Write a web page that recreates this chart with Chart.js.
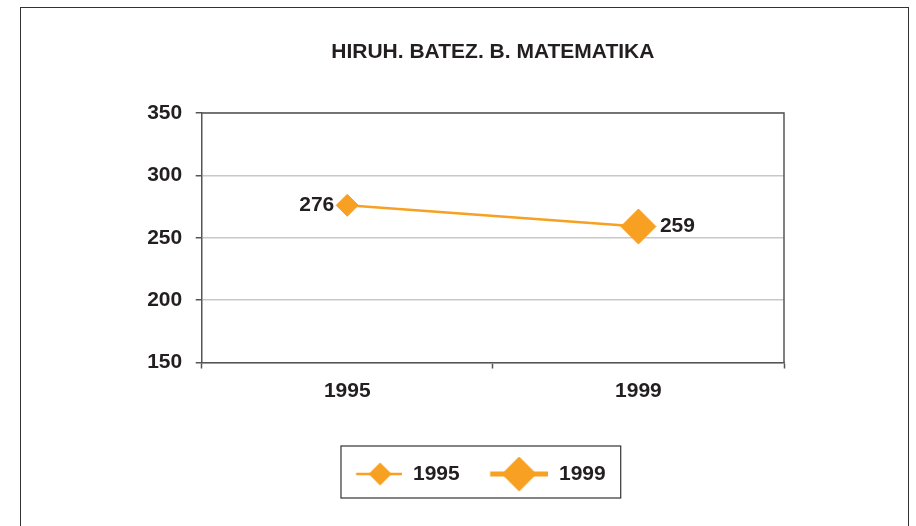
<!DOCTYPE html>
<html><head><meta charset="utf-8">
<script src="https://cdn.jsdelivr.net/npm/chart.js@4/dist/chart.umd.min.js"></script>
<style>html,body{margin:0;padding:0;background:#fff}canvas{display:block}</style>
</head><body>
<canvas id="c" width="916" height="526"></canvas>
<script>
// ---- data ----
const categories = ['1995', '1999'];
const scores = [276, 259];
const legendLabels = ['1995', '1999'];
const yMin = 150, yMax = 350, yStep = 50;
const titleText = 'HIRUH. BATEZ. B. MATEMATIKA';

// ---- styles ----
const ORANGE = '#F7A021';
const TEXT = '#231F20';
const AXIS = '#555555';
const GRID = '#C8C8C8';
const FONT = '"Liberation Sans", Arial, sans-serif';

function makeIcon(w, h, x0, x1, lw, cx, r) {
  const c = document.createElement('canvas');
  c.width = w; c.height = h;
  const g = c.getContext('2d');
  const cy = h / 2;
  g.strokeStyle = ORANGE; g.lineWidth = lw;
  g.beginPath(); g.moveTo(x0, cy); g.lineTo(x1, cy); g.stroke();
  g.fillStyle = ORANGE;
  g.beginPath();
  g.moveTo(cx - r, cy); g.lineTo(cx, cy - r); g.lineTo(cx + r, cy); g.lineTo(cx, cy + r);
  g.closePath(); g.fill();
  return c;
}
const icons = [
  makeIcon(82, 26, 35.7, 82, 2.5, 59.7, 11.5),
  makeIcon(82, 38, 23.7, 82, 5, 52.7, 17.5)
];

const pointRadii = [11, 17.5];

const framePlugin = {
  id: 'frame',
  beforeDraw(chart) {
    const ctx = chart.ctx;
    ctx.save();
    ctx.fillStyle = '#fff';
    ctx.fillRect(0, 0, chart.width, chart.height);
    ctx.strokeStyle = '#333';
    ctx.lineWidth = 1;
    ctx.strokeRect(20.5, 7.5, 888, 540);
    ctx.restore();
  },
  afterDraw(chart) {
    const ctx = chart.ctx;
    const a = chart.chartArea;
    ctx.save();
    ctx.strokeStyle = AXIS;
    ctx.lineWidth = 1.5;
    ctx.beginPath();
    ctx.moveTo(a.left, a.top); ctx.lineTo(a.right, a.top); ctx.lineTo(a.right, a.bottom);
    ctx.stroke();
    // legend border
    const hb = chart.legend.legendHitBoxes;
    if (hb && hb.length) {
      const x1 = hb[0].left + 20.7;
      const last = hb[hb.length - 1];
      const x2 = last.left + last.width + 15;
      const cy = hb[0].top + hb[0].height / 2;
      ctx.strokeStyle = '#333';
      ctx.lineWidth = 1.2;
      ctx.strokeRect(x1, cy - 28, x2 - x1, 52);
    }
    ctx.restore();
  }
};

const valueLabels = {
  id: 'valueLabels',
  afterDatasetsDraw(chart) {
    const ctx = chart.ctx;
    const meta = chart.getDatasetMeta(0);
    ctx.save();
    ctx.font = 'bold 21px ' + FONT;
    ctx.fillStyle = TEXT;
    ctx.textBaseline = 'middle';
    meta.data.forEach((pt, i) => {
      const r = pointRadii[i];
      if (i === 0) {
        ctx.textAlign = 'right';
        ctx.fillText(String(scores[i]), pt.x - r - 2, pt.y);
      } else {
        ctx.textAlign = 'left';
        ctx.fillText(String(scores[i]), pt.x + r + 4, pt.y);
      }
    });
    ctx.restore();
  }
};

new Chart(document.getElementById('c'), {
  type: 'line',
  data: {
    labels: categories,
    datasets: [{
      label: 'Matematika',
      data: scores,
      borderColor: ORANGE,
      borderWidth: 2.5,
      backgroundColor: ORANGE,
      pointStyle: 'rectRot',
      pointRadius: pointRadii,
      pointHoverRadius: pointRadii,
      pointBackgroundColor: ORANGE,
      pointBorderColor: ORANGE,
      pointBorderWidth: 1,
      tension: 0
    }]
  },
  options: {
    responsive: false,
    animation: false,
    devicePixelRatio: 1,
    layout: { padding: { left: 142, right: 132, top: 0, bottom: 31.5 } },
    plugins: {
      tooltip: { enabled: false },
      title: {
        display: true,
        text: titleText,
        fullSize: false,
        color: TEXT,
        font: { family: FONT, size: 21, weight: 'bold' },
        padding: { top: 39.4, bottom: 48.4 }
      },
      legend: {
        display: true,
        position: 'bottom',
        onClick: null,
        labels: {
          usePointStyle: true,
          pointStyleWidth: 82.2,
          padding: 6.6,
          color: TEXT,
          font: { family: FONT, size: 21, weight: 'bold' },
          generateLabels() {
            return legendLabels.map((t, i) => ({
              text: t,
              pointStyle: icons[i],
              fillStyle: ORANGE,
              strokeStyle: ORANGE,
              lineWidth: 0,
              hidden: false,
              datasetIndex: 0,
              fontColor: TEXT
            }));
          }
        }
      }
    },
    scales: {
      x: {
        type: 'category',
        offset: true,
        grid: { display: true, offset: true, drawOnChartArea: false, drawTicks: true, tickLength: 6, tickColor: AXIS, tickWidth: 1.5 },
        border: { display: true, color: AXIS, width: 1.5 },
        ticks: { color: TEXT, font: { family: FONT, size: 21, weight: 'bold' }, padding: 10, maxRotation: 0 },
        afterFit(s) { s.height = 94.4; }
      },
      y: {
        min: yMin, max: yMax,
        ticks: { stepSize: yStep, color: TEXT, font: { family: FONT, size: 21, weight: 'bold' }, padding: 13.5 },
        grid: { color: GRID, lineWidth: 1.5, drawTicks: true, tickLength: 6, tickColor: AXIS, tickWidth: 1.5 },
        border: { display: true, color: AXIS, width: 1.5 },
        afterFit(s) { s.width = 59.7; }
      }
    }
  },
  plugins: [framePlugin, valueLabels]
});
</script>
</body></html>
